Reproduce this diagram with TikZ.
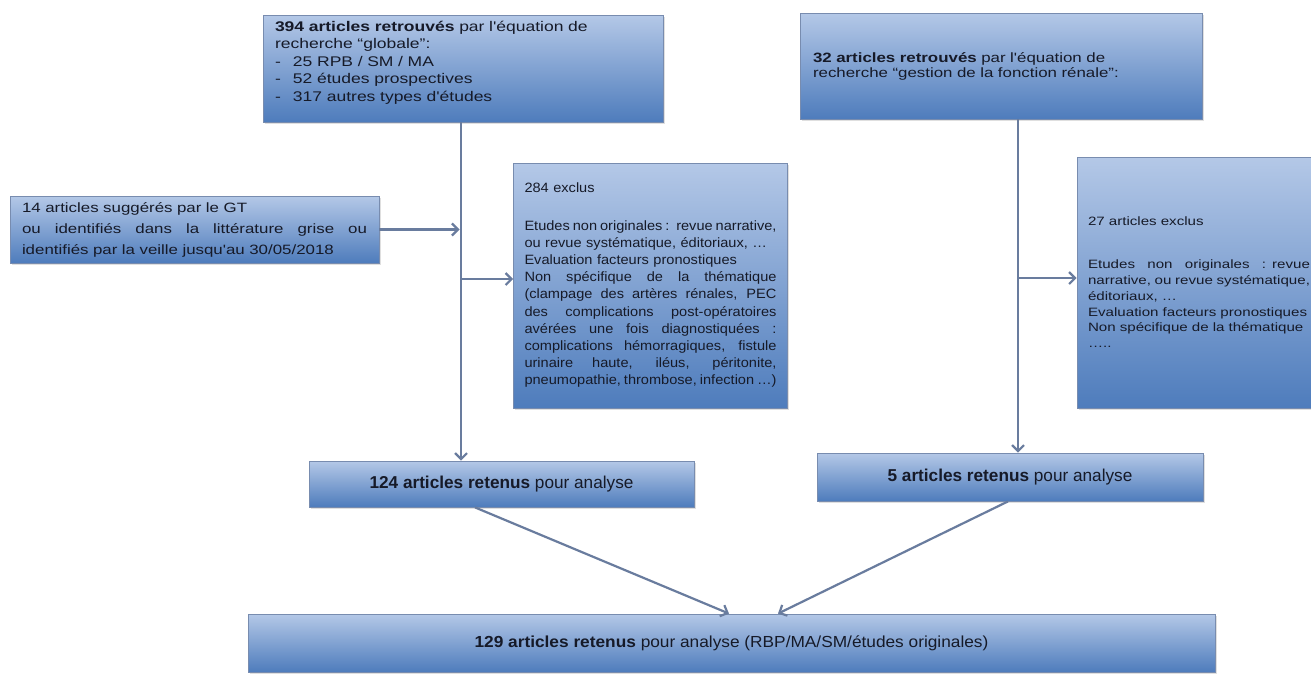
\documentclass[tikz,border=0pt]{standalone}
\usepackage{fontspec}
\setmainfont{Liberation Sans}
\newfontfamily\fw[FakeStretch=1.25]{Liberation Sans}
\newfontfamily\fm[FakeStretch=1.08]{Liberation Sans}
\usetikzlibrary{arrows.meta,shadows}
\definecolor{boxtop}{RGB}{180,200,231}
\definecolor{boxbot}{RGB}{78,124,188}
\definecolor{boxline}{RGB}{120,140,175}
\definecolor{arrcol}{RGB}{105,124,158}
\definecolor{txt}{RGB}{22,26,40}
\newcommand{\jline}[2]{\leavevmode\hbox to #1{\spaceskip=0.28em plus 1fil minus 0.08em\relax #2}}
\tikzset{
  box/.style={draw=boxline, line width=0.8pt, top color=boxtop, bottom color=boxbot,
    text=txt, inner ysep=0pt, drop shadow={opacity=0.25, shadow xshift=1.5pt, shadow yshift=-2pt}},
  arr/.style={draw=arrcol, line width=2.2pt, -{Straight Barb[length=6pt,width=12pt]}}
}
\begin{document}
\begin{tikzpicture}[x=1pt,y=-1pt]
\clip (0,0) rectangle (1311,675);
\fill[white] (0,0) rectangle (1311,675);

\node[box, text width=376pt, inner xsep=12pt, minimum height=107pt, align=left,
  font={\fw\fontsize{14}{17.4}\selectfont}] (A) at (463,68.5)
  {{\bfseries 394 articles retrouvés} par l'équation de\\
   recherche “globale”:\\
   \makebox[18pt][l]{-}25 RPB / SM / MA\\
   \makebox[18pt][l]{-}52 études prospectives\\
   \makebox[18pt][l]{-}317 autres types d'études\par\vspace{12pt}};

\node[box, text width=376pt, inner xsep=13pt, minimum height=106pt, align=left,
  font={\fw\fontsize{13.5}{15}\selectfont}] (B) at (1001,66)
  {{\bfseries 32 articles retrouvés} par l'équation de\\
   recherche “gestion de la fonction rénale”:};

\node[box, text width=345pt, inner xsep=12pt, minimum height=67pt, align=left,
  font={\fw\fontsize{13.5}{21}\selectfont}] (C) at (194.5,229.5)
  {14 articles suggérés par le GT\\
   \jline{345pt}{ou identifiés dans la littérature grise ou}\\
   identifiés par la veille jusqu'au 30/05/2018};

\node[box, text width=252pt, inner xsep=11pt, minimum height=245pt, align=left,
  font={\fm\fontsize{13.5}{17.2}\selectfont}] (D) at (650.5,285.5)
  {284 exclus\\[20pt]
   \jline{252pt}{Etudes non originales : revue narrative,}\\
   ou revue systématique, éditoriaux, …\\
   Evaluation facteurs pronostiques\\
   \jline{252pt}{Non spécifique de la thématique}\\
   \jline{252pt}{(clampage des artères rénales, PEC}\\
   \jline{252pt}{des complications post-opératoires}\\
   \jline{252pt}{avérées une fois diagnostiquées :}\\
   \jline{252pt}{complications hémorragiques, fistule}\\
   \jline{252pt}{urinaire haute, iléus, péritonite,}\\
   \jline{252pt}{pneumopathie, thrombose, infection …)}};

\node[box, text width=222pt, inner xsep=11pt, minimum height=251pt, align=left,
  font={\fw\fontsize{12.1}{15.8}\selectfont}] (E) at (1199,282.5)
  {27 articles exclus\\[27pt]
   \jline{222pt}{Etudes non originales : revue}\\
   \jline{222pt}{narrative, ou revue systématique,}\\
   éditoriaux, …\\
   Evaluation facteurs pronostiques\\
   Non spécifique de la thématique\\
   …..};

\node[box, minimum width=385pt, minimum height=46pt, align=center,
  font={\fontsize{17.2}{20}\selectfont}] (F) at (501.5,484)
  {{\bfseries 124 articles retenus} pour analyse};

\node[box, minimum width=386pt, minimum height=48pt, align=center,
  font={\fontsize{17.2}{20}\selectfont}] (G) at (1010,477)
  {{\bfseries 5 articles retenus} pour analyse};

\node[box, minimum width=967pt, minimum height=58pt, align=center,
  font={\fm\fontsize{16}{20}\selectfont}] (H) at (731.5,643)
  {{\bfseries 129 articles retenus} pour analyse (RBP/MA/SM/études originales)};

\coordinate (la) at ([xshift=-2pt]A.south);
\coordinate (lb) at ([xshift=17pt]B.south);

\draw[arr] (la) -- (la |- F.north);
\draw[arr, shorten >=1.5pt] (C.east) -- (C.east -| la);
\draw[arr] ([yshift=6.5pt]D.west -| la) -- ([yshift=6.5pt]D.west);

\draw[arr] (lb) -- (lb |- G.north);
\draw[arr] ([yshift=4.5pt]E.west -| lb) -- ([yshift=4.5pt]E.west);

\draw[arr] ([xshift=-26.5pt]F.south) -- ([xshift=-2.5pt]H.north);
\draw[arr] ([xshift=-2pt]G.south) -- ([xshift=46.5pt]H.north);
\end{tikzpicture}
\end{document}
